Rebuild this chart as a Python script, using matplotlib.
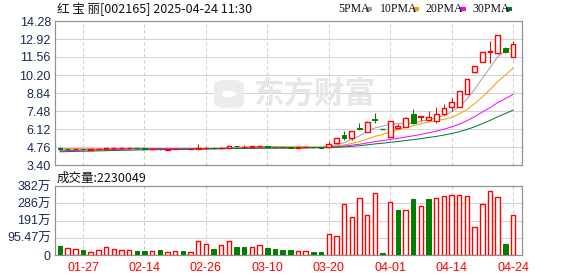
import numpy as np
import pandas as pd
import matplotlib
matplotlib.use("Agg")
import matplotlib.pyplot as plt

W, H = 578, 276
DPI = 100

# ---------------- data ----------------
dates = ["01-22", "01-23", "01-24", "01-27", "02-05", "02-06", "02-07", "02-10", "02-11", "02-12",
         "02-13", "02-14", "02-17", "02-18", "02-19", "02-20", "02-21", "02-24", "02-25", "02-26",
         "02-27", "02-28", "03-03", "03-04", "03-05", "03-06", "03-07", "03-10", "03-11", "03-12",
         "03-13", "03-14", "03-17", "03-18", "03-19", "03-20", "03-21", "03-24", "03-25", "03-26",
         "03-27", "03-28", "03-31", "04-01", "04-02", "04-03", "04-07", "04-08", "04-09", "04-10",
         "04-11", "04-14", "04-15", "04-16", "04-17", "04-18", "04-21", "04-22", "04-23", "04-24"]

opens = [4.70, 4.62, 4.60, 4.63, 4.56, 4.60, 4.62, 4.66, 4.67, 4.66,
         4.69, 4.65, 4.61, 4.62, 4.57, 4.60, 4.62, 4.60, 4.62, 4.66,
         4.72, 4.66, 4.72, 4.84, 4.76, 4.76, 4.80, 4.83, 4.78, 4.76,
         4.74, 4.72, 4.74, 4.76, 4.74, 4.74, 5.10, 5.67, 5.42, 6.22,
         5.90, 6.85, 6.12, 5.51, 6.18, 6.30, 7.23, 7.00, 6.78, 6.75,
         7.23, 7.80, 7.80, 8.79, 10.40, 11.21, 11.96, 11.84, 12.27, 11.58]
highs = [4.76, 4.64, 4.64, 4.64, 4.61, 4.64, 4.70, 4.68, 4.70, 4.72,
         4.70, 4.66, 4.64, 4.63, 4.61, 4.63, 4.63, 4.63, 4.98, 4.75,
         4.73, 4.76, 4.86, 4.86, 4.90, 4.82, 4.86, 4.86, 4.79, 4.77,
         4.75, 4.76, 4.82, 4.77, 4.75, 5.18, 5.45, 5.96, 6.00, 6.60,
         6.71, 7.32, 6.12, 6.73, 6.50, 7.00, 7.60, 7.12, 7.48, 7.76,
         8.01, 8.46, 8.99, 9.88, 10.86, 11.95, 12.79, 13.20, 12.34, 12.79]
lows = [4.56, 4.57, 4.58, 4.58, 4.54, 4.59, 4.61, 4.63, 4.65, 4.65,
        4.64, 4.60, 4.59, 4.56, 4.55, 4.58, 4.58, 4.58, 4.60, 4.64,
        4.64, 4.65, 4.70, 4.76, 4.74, 4.74, 4.79, 4.74, 4.74, 4.72,
        4.70, 4.71, 4.73, 4.72, 4.70, 4.72, 5.08, 5.30, 5.30, 6.05,
        5.88, 6.55, 6.12, 5.51, 6.10, 6.28, 6.52, 6.72, 6.75, 6.55,
        7.18, 7.50, 7.78, 8.75, 10.38, 11.15, 11.08, 11.80, 11.89, 11.55]
closes = [4.58, 4.60, 4.62, 4.60, 4.60, 4.62, 4.66, 4.66, 4.68, 4.70,
          4.66, 4.62, 4.62, 4.58, 4.60, 4.62, 4.60, 4.62, 4.66, 4.72,
          4.66, 4.70, 4.82, 4.80, 4.78, 4.80, 4.82, 4.78, 4.76, 4.74,
          4.72, 4.74, 4.76, 4.74, 4.72, 5.02, 5.42, 5.45, 6.00, 6.10,
          6.65, 6.80, 6.12, 6.73, 6.32, 6.95, 6.55, 7.08, 7.05, 7.23,
          7.68, 8.16, 8.99, 9.88, 10.86, 11.92, 12.05, 13.20, 11.96, 12.52]
# closes of the 29 sessions before the window (needed for the moving averages)
prior_closes = [4.18, 4.20, 4.22, 4.25, 4.22, 4.20, 4.24, 4.26, 4.28, 4.30,
                4.32, 4.30, 4.34, 4.36, 4.38, 4.40, 4.38, 4.36, 4.40, 4.42,
                4.48, 4.52, 4.55, 4.58, 4.60, 4.64, 4.66, 4.68, 4.66]
# volume in units of 10,000 shares (万)
volumes = [50, 37, 33, 28, 15, 28, 42, 33, 28, 28,
           22, 22, 22, 28, 18, 22, 22, 18, 77, 61,
           33, 55, 77, 44, 44, 44, 53, 39, 33, 28,
           28, 22, 22, 17, 17, 116, 103, 282, 208, 314,
           221, 341, 11, 291, 249, 247, 310, 271, 310, 314,
           325, 332, 332, 325, 153, 282, 352, 319, 61, 223.0049]

price_ticks = [3.40, 4.76, 6.12, 7.48, 8.84, 10.20, 11.56, 12.92, 14.28]
vol_ticks = [0, 95.47, 190.94, 286.41, 381.88]
vol_tick_labels = ["0", "95.47万", "191万", "286万", "382万"]
date_ticks = ["01-27", "02-14", "02-26", "03-10", "03-20", "04-01", "04-14", "04-24"]
ma_periods = [5, 10, 20, 30]
ma_labels = ["5PMA", "10PMA", "20PMA", "30PMA"]
ma_colors = ["#a0a0a0", "#f0a000", "#ff00ff", "#007a33"]
title_text = "红 宝 丽[002165] 2025-04-24 11:30"
vol_title = "成交量:2230049"
watermark = "东方财富"

# ---------------- derived ----------------
o = np.array(opens); h = np.array(highs); l = np.array(lows); c = np.array(closes)
n = len(c)
x = np.arange(n)
full = pd.Series(prior_closes + closes)
mas = [full.rolling(p).mean().values[len(prior_closes):] for p in ma_periods]
prev_close = np.concatenate([[prior_closes[-1]], c[:-1]])
vol_up = c >= prev_close
cand_up = np.where(c > o, True, np.where(c < o, False, vol_up))

RED = "#ff0000"
GREEN = "#008000"
LW = 0.72  # 1 px

def fx(px): return px / W
def fy(py): return 1 - py / H

fig = plt.figure(figsize=(W / DPI, H / DPI), dpi=DPI)
fig.patch.set_facecolor("white")

L, R = 55, 522
ax = fig.add_axes([fx(L), fy(165), (R - L) / W, (165 - 21) / H])
axv = fig.add_axes([fx(L), fy(255), (R - L) / W, (255 - 186) / H])

xlim = (-0.65, 60.17)
tick_idx = [dates.index(d) for d in date_ticks]

for a in (ax, axv):
    a.set_xlim(*xlim)
    for s in a.spines.values():
        s.set_color("#909090")
        s.set_linewidth(LW * 1.2)
    a.tick_params(length=0)
    for t in tick_idx:
        a.axvline(t, color="#c8c8c8", lw=LW, ls=(0, (3, 3)), zorder=0)

# watermark (logo blob + text)
ax.add_patch(plt.Circle((0, 0), 1, transform=None, visible=False))
logo = matplotlib.patches.FancyBboxPatch((fx(214), fy(108)), 30 / W, 28 / H,
                                         boxstyle="round,pad=0,rounding_size=0.02",
                                         transform=fig.transFigure, facecolor="#ececec",
                                         edgecolor="none", zorder=0)
fig.patches.append(logo)
fig.patches.append(matplotlib.patches.Circle((fx(229), fy(94)), 7 / W, transform=fig.transFigure,
                                             facecolor="white", edgecolor="none", zorder=0))
fig.text(fx(253), fy(94), watermark, fontsize=22, fontweight="bold", color="#e6e6e6",
         family=["Noto Sans CJK SC"], va="center", ha="left", zorder=0)
ax.patch.set_alpha(0)
axv.patch.set_alpha(0)

# price panel
ax.set_ylim(price_ticks[0], price_ticks[-1])
ax.set_yticks(price_ticks)
ax.set_yticklabels([f"{v:.2f}" for v in price_ticks], fontsize=9, color="#1b2a55",
                   family="Liberation Sans")
ax.tick_params(axis="y", pad=3)
ax.set_xticks([])
for v in price_ticks[1:-1]:
    ax.axhline(v, color="#d3d3d3", lw=LW, zorder=0)

for ma, col in zip(mas, ma_colors):
    ax.plot(x, ma, color=col, lw=LW, zorder=2)

bw = 0.62
for i in range(n):
    top, bot = max(o[i], c[i]), min(o[i], c[i])
    col = RED if cand_up[i] else GREEN
    if top - bot < 0.015:
        ax.vlines(x[i], l[i], h[i], color=col, lw=LW, zorder=3)
        ax.hlines((top + bot) / 2, x[i] - bw / 2, x[i] + bw / 2, color=col, lw=LW * 1.4, zorder=3)
        continue
    if h[i] > top:
        ax.vlines(x[i], top, h[i], color=col, lw=LW, zorder=3)
    if l[i] < bot:
        ax.vlines(x[i], l[i], bot, color=col, lw=LW, zorder=3)
    if cand_up[i]:
        ax.bar(x[i], top - bot, bottom=bot, width=bw, facecolor="white", edgecolor=RED,
               lw=LW * 1.4, zorder=3)
    else:
        ax.bar(x[i], top - bot, bottom=bot, width=bw, facecolor=GREEN, edgecolor=GREEN,
               lw=LW, zorder=3)

# volume panel
vmax = vol_ticks[-1]
axv.set_ylim(0, vmax)
axv.set_yticks(vol_ticks)
axv.set_yticklabels(vol_tick_labels, fontsize=9, color="#1b2a55",
                    family=["Liberation Sans", "Noto Sans CJK SC"])
axv.tick_params(axis="y", pad=3)
for v in vol_ticks[1:-1]:
    axv.axhline(v, color="#d3d3d3", lw=LW, zorder=0)
vol = np.array(volumes)
axv.bar(x[vol_up], vol[vol_up], width=0.58, facecolor="white", edgecolor=RED, lw=LW * 1.4, zorder=3)
axv.bar(x[~vol_up], vol[~vol_up], width=0.58, facecolor=GREEN, edgecolor=GREEN, lw=LW, zorder=3)
axv.set_xticks(tick_idx)
axv.set_xticklabels(date_ticks, fontsize=9, color=RED, family="Liberation Sans")
axv.tick_params(axis="x", pad=5)

# titles
fig.text(fx(57), fy(9), title_text, fontsize=9, color="#111111",
         family=["Noto Sans CJK SC", "DejaVu Sans"], va="center", ha="left")
fig.text(fx(57), fy(178), vol_title, fontsize=9, color="#111111",
         family=["Noto Sans CJK SC", "DejaVu Sans"], va="center", ha="left")

# legend
leg_x = [338, 380, 425, 472]
sq_x = [366, 413, 460, 506]
for lab, col, tx, sx in zip(ma_labels, ma_colors, leg_x, sq_x):
    fig.text(fx(tx), fy(9), lab, fontsize=8.5, color="#111111", family="Liberation Serif",
             va="center", ha="left")
    fig.patches.append(plt.Rectangle((fx(sx), fy(11)), 6 / W, 4 / H, transform=fig.transFigure,
                                     facecolor=col, edgecolor="none"))

fig.savefig("out.png", dpi=DPI, facecolor="white")
